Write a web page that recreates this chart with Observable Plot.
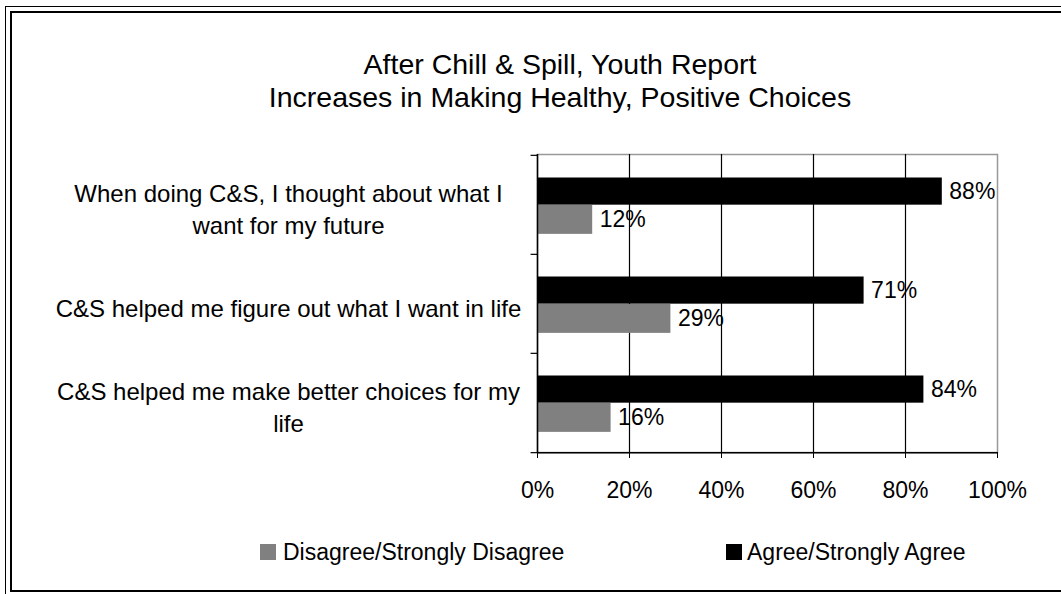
<!DOCTYPE html>
<html>
<head>
<meta charset="utf-8">
<script src="https://cdn.jsdelivr.net/npm/d3@7"></script>
<script src="https://cdn.jsdelivr.net/npm/@observablehq/plot@0.6"></script>
<style>
  html, body { margin: 0; padding: 0; background: #fff; overflow: hidden; }
  #wrap { position: relative; width: 1061px; height: 594px; font-family: "Liberation Sans", Arial, sans-serif; color: #000; }
  #outer { position: absolute; left: 5px; top: 5.5px; width: 1080px; height: 590px; border: 1.5px solid #000; box-sizing: border-box; }
  #inner { position: absolute; left: 10px; top: 11px; width: 1080px; height: 581px; border: 2.5px solid #000; box-sizing: border-box; }
  #chart { position: absolute; left: 0; top: 0; }
  #title { position: absolute; left: 0; width: 1120px; top: 48px; text-align: center; font-size: 28.5px; line-height: 33px; }
  .leg { position: absolute; font-size: 23px; line-height: 24px; white-space: nowrap; }
  .sw { position: absolute; width: 16px; height: 16px; }
</style>
</head>
<body>
<div id="wrap">
  <div id="outer"></div>
  <div id="inner"></div>
  <div id="chart"></div>
  <div id="title">After Chill &amp; Spill, Youth Report<br>Increases in Making Healthy, Positive Choices</div>
  <div class="sw" style="left:260px;top:544px;background:#808080"></div>
  <div class="leg" style="left:283px;top:540px">Disagree/Strongly Disagree</div>
  <div class="sw" style="left:726px;top:544px;background:#000"></div>
  <div class="leg" style="left:747px;top:540px">Agree/Strongly Agree</div>
</div>
<script>
const questions = [
  "When doing C&S, I thought about what I\nwant for my future",
  "C&S helped me figure out what I want in life",
  "C&S helped me make better choices for my\nlife"
];
const agree = [88, 71, 84];
const disagree = [12, 29, 16];
const xTicks = [0, 20, 40, 60, 80, 100];
const gridTicks = [20, 40, 60, 80];

const W = 1061, H = 594;
const mTop = 154, mBottom = 142, mLeft = 537, mRight = 64;
const bw = (H - mTop - mBottom) / questions.length;

const agreeRows = questions.map((q, i) => ({q, value: agree[i]}));
const disRows = questions.map((q, i) => ({q, value: disagree[i]}));

const chart = Plot.plot({
  width: W,
  height: H,
  marginTop: mTop,
  marginBottom: mBottom,
  marginLeft: mLeft,
  marginRight: mRight,
  style: {fontFamily: "'Liberation Sans', Arial, sans-serif", fontSize: "23px", background: "transparent", color: "#000"},
  x: {domain: [0, 100], ticks: xTicks},
  y: {domain: questions, paddingInner: 0, paddingOuter: 0, axis: null},
  marks: [
    Plot.frame({stroke: "#999", strokeWidth: 1.5}),
    Plot.ruleX(gridTicks, {stroke: "#000", strokeWidth: 1.2}),
    Plot.barX(agreeRows, {y: "q", x: "value", fill: "#000", insetTop: 22.5, insetBottom: bw - 50}),
    Plot.barX(disRows, {y: "q", x: "value", fill: "#808080", insetTop: 50, insetBottom: bw - 79.2}),
    Plot.ruleX([0], {stroke: "#000", strokeWidth: 1.5}),
    Plot.ruleY([questions[questions.length - 1]], {x1: 0, x2: 100, dy: bw / 2, stroke: "#000", strokeWidth: 1.5}),
    Plot.ruleY(questions, {x1: -1.4, x2: 0, dy: -bw / 2, stroke: "#000", strokeWidth: 1.2}),
    Plot.ruleY([questions[questions.length - 1]], {x1: -1.4, x2: 0, dy: bw / 2, stroke: "#000", strokeWidth: 1.2}),
    Plot.axisX({ticks: xTicks, tickSize: 6, tickPadding: 23, tickFormat: d => d + "%", stroke: "#000", fill: "#000", fontSize: 23, label: null}),
    Plot.text(agreeRows, {y: "q", x: "value", text: d => d.value + "%", dx: 7, dy: -13.4, textAnchor: "start", fontSize: 23, fill: "#000"}),
    Plot.text(disRows, {y: "q", x: "value", text: d => d.value + "%", dx: 7, dy: 15, textAnchor: "start", fontSize: 23, fill: "#000"}),
    Plot.text(questions, {y: d => d, text: d => d, frameAnchor: "left", dx: -249, dy: 3, textAnchor: "middle", lineHeight: 1.32, fontSize: 24, fill: "#000"})
  ]
});
document.getElementById("chart").appendChild(chart);
</script>
</body>
</html>
